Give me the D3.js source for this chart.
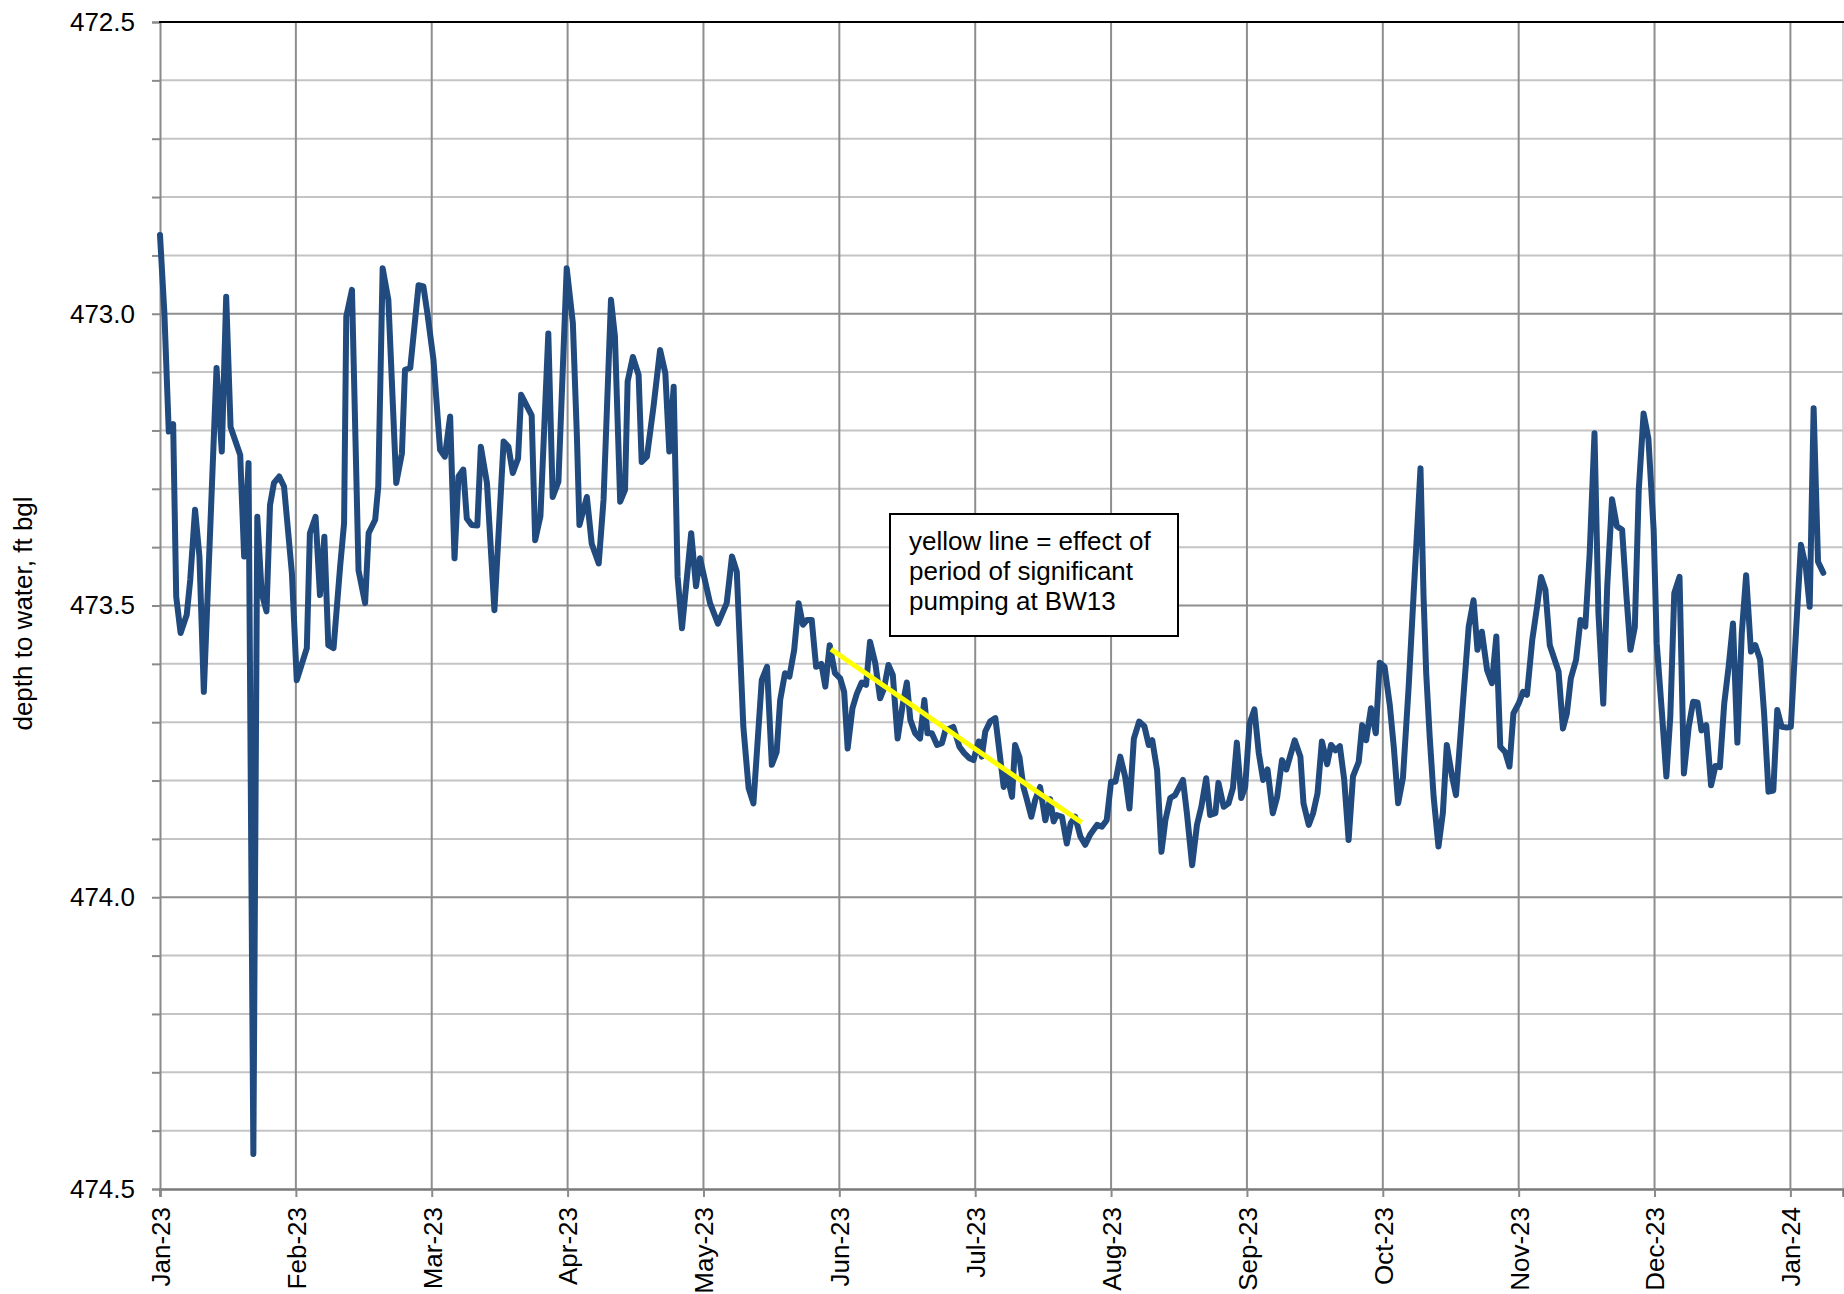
<!DOCTYPE html>
<html>
<head>
<meta charset="utf-8">
<script src="https://cdn.jsdelivr.net/npm/d3@7"></script>
<style>
  html, body { margin: 0; padding: 0; background: #fff; }
  text { font-family: "Liberation Sans", Arial, sans-serif; fill: #000; }
</style>
</head>
<body>
<svg id="chart" width="1844" height="1294"></svg>
<script>
// ---- data (days since 2023-01-01, depth to water ft bgl) ----
const dayOffsets = [
  0,1,2,3,3.7,4.7,6.1,6.9,8,9,10,12.9,14.1,15.1,16.1,18.3,19.2,20.2,21.3,22.2,23.2,24.3,25.1,26,27.2,28.3,30.1,31.2,33.5,34.2,
  35.5,36.5,37.5,38.4,39.6,41.1,42,42.5,43.8,45.3,46.8,47.6,49.1,49.8,50.8,52.1,53.9,55.2,55.9,57.1,59,60.1,61,62.4,63.9,65,66.2,67.2,68.1,69.2,
  70,71.1,72.4,73.2,74.6,76.3,78.4,79.5,80.5,81.7,82.4,84.8,85.6,86.8,88.6,89.6,90.9,92.8,94.2,95.1,95.7,97.4,98.5,100.1,101.2,102.9,103.8,105,106.1,106.7,
  107.9,109.2,109.9,111.1,112.6,114.1,115.3,116.2,117.2,118.1,119.1,121.2,122.3,123.2,125.5,127.3,129.3,130.5,131.6,133.1,134.3,135.4,137.3,138.5,139.6,140.7,141.5,142.6,143.6,144.7,
  145.7,146.7,147.6,148.7,149.7,150.9,151.8,152.8,154,155.2,156.1,156.9,158,159,160.1,161.1,162,163.2,164.3,165.2,166.2,167.2,168.3,169.5,170.4,171.2,172.3,173.4,174.4,175.1,
  176.1,177.3,178.4,179.2,181,182.4,183.5,184.7,185.6,186.8,187.5,188.3,189.4,190.6,192.5,193.2,194.4,195.1,196.1,197,197.8,198.8,199.7,200.8,202,203.1,203.9,204.6,205.8,206.9,
  207.8,208.8,210,211.1,212.2,213.8,214.9,216,217,218,219.1,220.2,221.2,222.2,223.4,224.6,225.6,226.4,227.5,228.5,229.4,230.5,231.6,233.4,234.3,235.5,236.6,237.6,238.7,239.6,
  240.8,241.5,242.7,243.8,244.8,245.7,246.7,247.6,248.6,249.7,250.7,251.7,252.7,253.9,254.9,256,257,258.9,260.2,260.9,262.1,263.1,264.1,265.1,266.3,267.2,268.2,269.2,270.2,271.2,
  272.2,273.5,274.3,275.2,276.3,277.4,278.3,279.4,280.6,281.5,282.5,283.6,284.9,286,286.8,287.6,288.3,288.9,289.7,290.6,291.7,292.7,293.6,294.8,295.7,297.1,298.6,299.7,300.6,301.6,
  302.8,303.9,304.9,305.8,306.9,307.9,308.8,310,311,311.9,313.1,314.2,315.1,316.1,317.1,319.1,320.1,321,321.9,323.1,324.1,325.2,326.2,327.3,328.2,329.3,330.2,331.3,332.4,333.6,
  334.6,335.5,336.5,337.4,338.5,339.6,340.8,341.5,342.7,343.7,344.6,345.5,346.7,347.7,348.8,349.8,350.8,351.7,352.8,353.9,354.9,355.9,356.9,357.9,358.9,359.9,360.9,361.9,363,364,
  365.1,366,367,368.1,369,370,371.2,372.1,373.3,374.4,375.5,376.4,377.3,378.3,379.5
];
const depthFt = [
  472.865,472.999,473.202,473.189,473.485,473.547,473.516,473.456,473.336,473.416,473.648,473.093,473.236,472.971,473.194,473.242,473.416,473.256,474.44,473.348,473.479,473.51,473.328,473.29,473.279,473.296,473.445,473.628,473.573,473.376,
  473.348,473.482,473.382,473.568,473.573,473.433,473.359,473.005,472.959,473.44,473.496,473.376,473.353,473.296,472.922,472.976,473.29,473.239,473.096,473.093,472.951,472.953,472.999,473.079,473.233,473.245,473.176,473.419,473.279,473.267,
  473.351,473.362,473.363,473.228,473.29,473.508,473.219,473.228,473.273,473.248,473.139,473.174,473.388,473.347,473.034,473.314,473.288,472.922,473.016,473.205,473.362,473.314,473.394,473.428,473.319,472.976,473.039,473.322,473.302,473.116,
  473.074,473.105,473.254,473.245,473.159,473.062,473.102,473.236,473.125,473.451,473.539,473.376,473.467,473.419,473.496,473.531,473.496,473.416,473.442,473.708,473.813,473.839,473.628,473.605,473.773,473.751,473.662,473.616,473.622,473.576,
  473.496,473.533,473.525,473.525,473.605,473.6,473.639,473.568,473.616,473.625,473.648,473.745,473.676,473.651,473.632,473.636,473.562,473.599,473.659,473.642,473.602,473.619,473.728,473.668,473.632,473.696,473.719,473.728,473.662,473.719,
  473.719,473.739,473.736,473.714,473.708,473.742,473.753,473.762,473.765,473.733,473.759,473.716,473.699,473.693,473.811,473.788,473.828,473.739,473.76,473.811,473.833,473.862,473.833,473.811,473.868,473.832,473.87,473.859,473.862,473.908,
  473.873,473.862,473.896,473.91,473.893,473.876,473.879,473.868,473.802,473.802,473.759,473.793,473.848,473.728,473.699,473.707,473.739,473.731,473.782,473.922,473.868,473.83,473.825,473.799,473.856,473.945,473.876,473.845,473.796,473.859,
  473.856,473.804,473.845,473.839,473.813,473.735,473.83,473.811,473.702,473.678,473.753,473.799,473.781,473.856,473.828,473.765,473.781,473.731,473.759,473.839,473.876,473.856,473.822,473.733,473.772,473.739,473.748,473.741,473.799,473.902,
  473.793,473.768,473.705,473.731,473.676,473.719,473.598,473.605,473.671,473.742,473.839,473.795,473.639,473.485,473.376,473.265,473.485,473.616,473.725,473.828,473.913,473.856,473.739,473.793,473.825,473.685,473.536,473.491,473.576,473.545,
  473.611,473.633,473.553,473.742,473.751,473.776,473.685,473.668,473.648,473.653,473.559,473.502,473.451,473.473,473.568,473.613,473.711,473.685,473.625,473.593,473.525,473.536,473.411,473.205,473.513,473.668,473.468,473.318,473.364,473.37,
  473.485,473.576,473.537,473.302,473.171,473.214,473.371,473.565,473.685,473.793,473.69,473.479,473.451,473.788,473.708,473.665,473.666,473.714,473.705,473.808,473.775,473.777,473.668,473.605,473.531,473.735,473.548,473.448,473.579,473.568,
  473.593,473.685,473.819,473.817,473.679,473.708,473.709,473.708,473.542,473.396,473.433,473.502,473.162,473.425,473.444
];
// x-axis ticks every 31 days from 2023-01-01
const xTickDays = [0,31,62,93,124,155,186,217,248,279,310,341,372];
const xDomainDays = [0, 384];
const yDomain = [472.5, 474.5];
const yLabelTicks = [472.5, 473.0, 473.5, 474.0, 474.5];
const yAxisTitle = "depth to water, ft bgl";
// annotation
const trendDays = [153.1, 210.3];
const trendDepths = [473.575, 473.872];
const noteLines = ["yellow line = effect of", "period of significant", "pumping at BW13"];

// ---- layout ----
const M = { left: 160, right: 1843, top: 22, bottom: 1189 };
const svg = d3.select("#chart");
const x = d3.scaleLinear().domain(xDomainDays).range([M.left, M.right]);
const y = d3.scaleLinear().domain(yDomain).range([M.top, M.bottom]);
const startDate = new Date(2023, 0, 1);
const fmt = d3.timeFormat("%b-%y");
const dayToLabel = d => fmt(d3.timeDay.offset(startDate, d));

const minorTicks = d3.range(0, 21).map(i => +(472.5 + i * 0.1).toFixed(1));

// horizontal minor gridlines
svg.append("g").selectAll("line").data(minorTicks.filter(v => !yLabelTicks.includes(v)))
  .join("line")
  .attr("x1", M.left).attr("x2", M.right)
  .attr("y1", d => y(d)).attr("y2", d => y(d))
  .attr("stroke", "#c4c4c4").attr("stroke-width", 2);

// vertical gridlines
svg.append("g").selectAll("line").data(xTickDays.slice(1))
  .join("line")
  .attr("x1", d => x(d)).attr("x2", d => x(d))
  .attr("y1", M.top).attr("y2", M.bottom)
  .attr("stroke", "#8e8e8e").attr("stroke-width", 2);

// major horizontal gridlines
svg.append("g").selectAll("line").data(yLabelTicks.slice(1, -1))
  .join("line")
  .attr("x1", M.left).attr("x2", M.right)
  .attr("y1", d => y(d)).attr("y2", d => y(d))
  .attr("stroke", "#8e8e8e").attr("stroke-width", 2);

// right border
svg.append("line").attr("x1", M.right).attr("x2", M.right).attr("y1", M.top).attr("y2", M.bottom)
  .attr("stroke", "#c8c8c8").attr("stroke-width", 1.5);

// y axis
const yAxis = d3.axisLeft(y).tickValues(minorTicks).tickSize(8)
  .tickFormat(d => yLabelTicks.includes(d) ? d3.format(".1f")(d) : "");
const gy = svg.append("g").attr("transform", `translate(${M.left},0)`).call(yAxis);
gy.select(".domain").attr("stroke", "#8a8a8a").attr("stroke-width", 2);
gy.selectAll(".tick line").attr("stroke", "#8a8a8a").attr("stroke-width", 2);
gy.selectAll(".tick text").attr("x", -25).attr("font-size", 26)
  .attr("font-family", "Liberation Sans, Arial, sans-serif").attr("fill", "#000");

// x axis
const xAxis = d3.axisBottom(x).tickValues(xTickDays).tickSize(8).tickFormat(dayToLabel);
const gx = svg.append("g").attr("transform", `translate(0,${M.bottom})`).call(xAxis);
gx.select(".domain").attr("stroke", "#7a7a7a").attr("stroke-width", 2.5);
gx.selectAll(".tick line").attr("stroke", "#8a8a8a").attr("stroke-width", 2);
gx.selectAll(".tick text")
  .attr("font-size", 26).attr("font-family", "Liberation Sans, Arial, sans-serif").attr("fill", "#000")
  .attr("text-anchor", "end")
  .attr("transform", "rotate(-90)")
  .attr("x", -18).attr("y", 0).attr("dy", "0.36em");

// top border
svg.append("line").attr("x1", M.left - 1).attr("x2", 1844).attr("y1", M.top).attr("y2", M.top)
  .attr("stroke", "#000").attr("stroke-width", 2);

// y axis title
svg.append("text")
  .attr("transform", `translate(32,${(M.top + M.bottom) / 2 + 8}) rotate(-90)`)
  .attr("text-anchor", "middle").attr("font-size", 26)
  .text(yAxisTitle);

// data line
const pts = dayOffsets.map((d, i) => [d, depthFt[i]]);
svg.append("path")
  .datum(pts)
  .attr("d", d3.line().x(d => x(d[0])).y(d => y(d[1])))
  .attr("fill", "none")
  .attr("stroke", "#214b7e").attr("stroke-width", 6)
  .attr("stroke-linejoin", "round").attr("stroke-linecap", "round");

// yellow trend line
svg.append("line")
  .attr("x1", x(trendDays[0])).attr("y1", y(trendDepths[0]))
  .attr("x2", x(trendDays[1])).attr("y2", y(trendDepths[1]))
  .attr("stroke", "#ffff00").attr("stroke-width", 5);

// note box
const box = svg.append("g").attr("transform", "translate(890,514)");
box.append("rect").attr("width", 288).attr("height", 122)
  .attr("fill", "#fff").attr("stroke", "#000").attr("stroke-width", 2);
box.selectAll("text").data(noteLines).join("text")
  .attr("x", 19).attr("y", (d, i) => 36 + i * 30)
  .attr("font-size", 26).text(d => d);
</script>
</body>
</html>
